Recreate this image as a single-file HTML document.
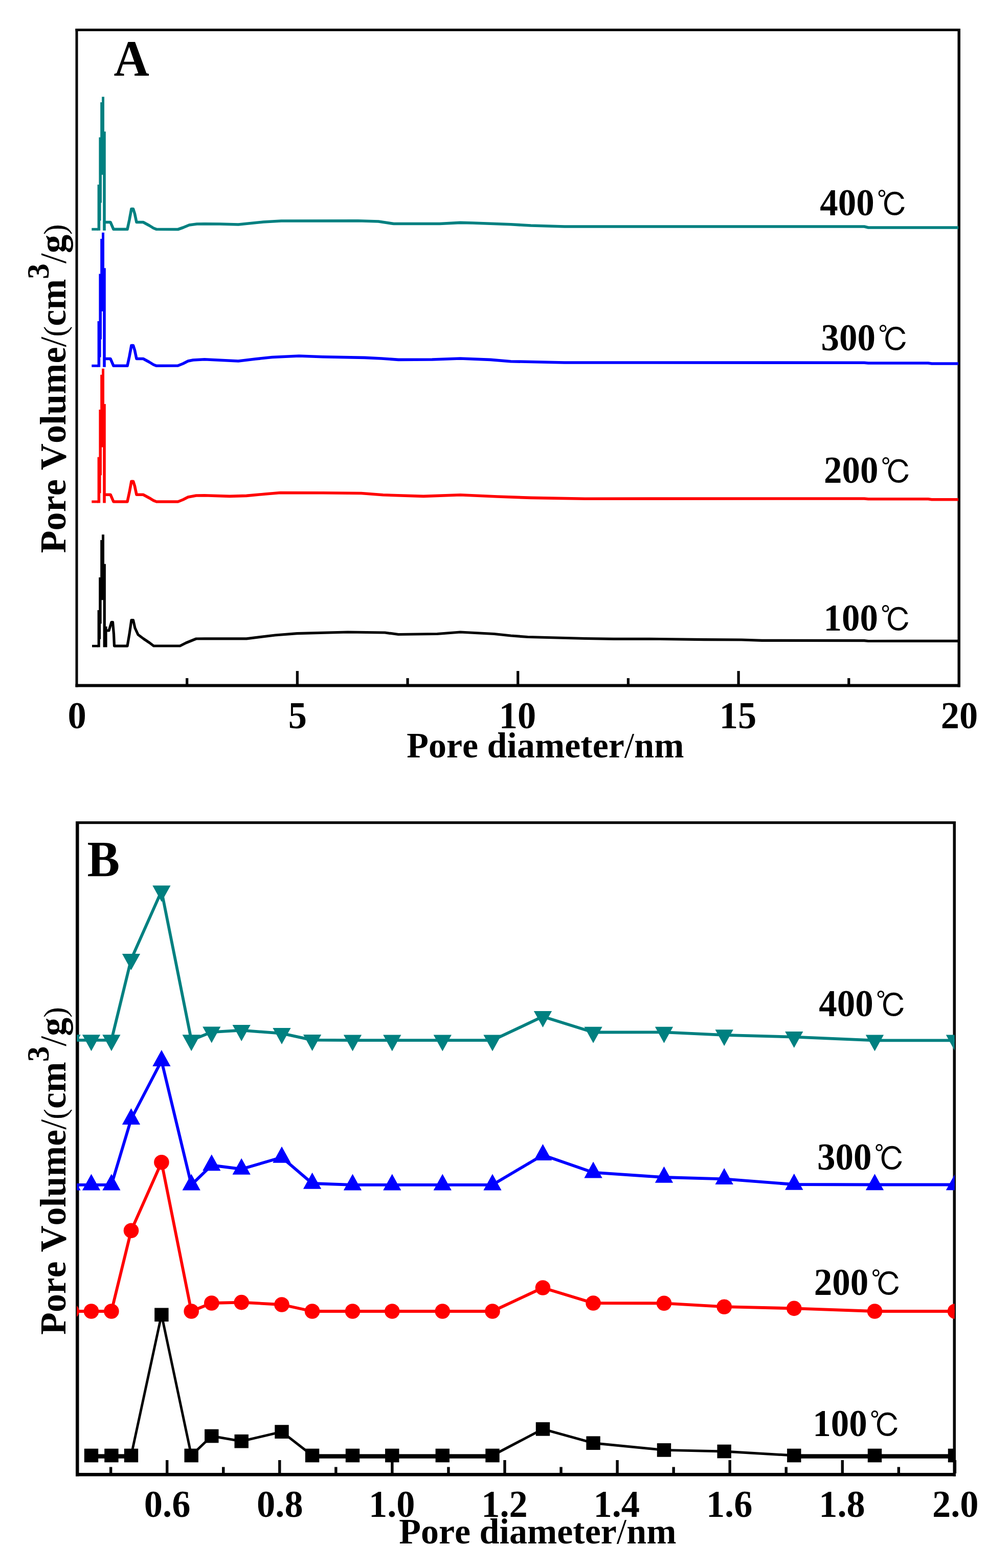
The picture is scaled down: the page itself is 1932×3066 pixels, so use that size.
<!DOCTYPE html>
<html><head><meta charset="utf-8"><title>Pore size distribution</title>
<style>html,body{margin:0;padding:0;background:#fff;}svg{display:block;}text{font-kerning:none;font-feature-settings:"kern" 0;}</style></head>
<body>
<svg width="1932" height="3066" viewBox="0 0 1932 3066">
<rect width="1932" height="3066" fill="#fff"/>
<rect x="147.5" y="56" width="1730" height="5" fill="#000"/>
<rect x="147.5" y="1337.5" width="1730" height="6" fill="#000"/>
<rect x="147.5" y="56" width="5" height="1287.5" fill="#000"/>
<rect x="1872.5" y="56" width="5.5" height="1287.5" fill="#000"/>
<rect x="578.775" y="1312" width="5.2" height="26" fill="#000"/>
<rect x="1010.15" y="1312" width="5.2" height="26" fill="#000"/>
<rect x="1441.53" y="1312" width="5.2" height="26" fill="#000"/>
<rect x="363.087" y="1326" width="5.2" height="12" fill="#000"/>
<rect x="794.462" y="1326" width="5.2" height="12" fill="#000"/>
<rect x="1225.84" y="1326" width="5.2" height="12" fill="#000"/>
<rect x="1657.21" y="1326" width="5.2" height="12" fill="#000"/>
<polyline points="179.3,448.3 192,448.3" fill="none" stroke="#008080" stroke-width="5" stroke-linejoin="round" stroke-linecap="butt"/>
<polygon points="190.6,450.8 190.6,361.1 193.4,361.1 193.4,268.4 196.2,268.4 196.2,200 199.1,200 199.1,189.3 204,189.3 204,257.3 206.8,257.3 206.8,450.8 201.2,450.8 201.2,341.8 199,341.8 199,396.6 197.6,396.6 197.6,431.5 196.2,431.5 196.2,450.8" fill="#008080"/>
<polyline points="206,434.5 216,434.5 222,448.3 249,448.3 253,430 257,408.5 260.5,408.5 263.5,418 267,434.5 280,434.5 292,441 300,446 306,448.3 348,448.5 358,445 370,440 385,438 400,437.7 430,438 466,439 515,434 550,432 700,431.7 740,433 770,437.5 860,437.5 900,435.4 925,436 999,438.7 1038,441 1104,443 1690,443 1698,445 1874,445" fill="none" stroke="#008080" stroke-width="5.6" stroke-linejoin="round" stroke-linecap="butt"/>
<polyline points="179.3,715.3 192,715.3" fill="none" stroke="#0000ff" stroke-width="5" stroke-linejoin="round" stroke-linecap="butt"/>
<polygon points="190.6,717.8 190.6,628.1 193.4,628.1 193.4,535.4 196.2,535.4 196.2,467 199.1,467 199.1,454.8 204,454.8 204,524.3 206.8,524.3 206.8,717.8 201.2,717.8 201.2,608.8 199,608.8 199,663.6 197.6,663.6 197.6,698.5 196.2,698.5 196.2,717.8" fill="#0000ff"/>
<polyline points="206,701.5 216,701.5 222,715.3 249,715.3 253,697 257,675.5 260.5,675.5 263.5,685 267,701.5 280,701.5 292,708 300,713 306,715.3 348,715 358,711 367.7,706 377.6,704 400,702.7 466,706 499,702 532,698.5 584.6,696 630.7,697.8 713,699.4 746,701 779,703.4 845,703 900,701 959,703.4 999,706.7 1104,709 1690,709.2 1698,710 1815,710 1822,711 1874,711" fill="none" stroke="#0000ff" stroke-width="5.6" stroke-linejoin="round" stroke-linecap="butt"/>
<polyline points="179.3,981 192,981" fill="none" stroke="#ff0000" stroke-width="5" stroke-linejoin="round" stroke-linecap="butt"/>
<polygon points="190.6,983.5 190.6,893.8 193.4,893.8 193.4,801.1 196.2,801.1 196.2,732.7 199.1,732.7 199.1,720.8 204,720.8 204,790 206.8,790 206.8,983.5 201.2,983.5 201.2,874.5 199,874.5 199,929.3 197.6,929.3 197.6,964.2 196.2,964.2 196.2,983.5" fill="#ff0000"/>
<polyline points="206,967.2 216,967.2 222,981 249,981 253,962.7 257,941.2 260.5,941.2 263.5,950.7 267,967.2 280,967.2 292,973.7 300,978.7 306,981 348,981 358,977 367.7,972 383.6,969 400,968.8 449,970.4 482,969.4 518.7,966 548,963.5 630.7,963.8 706.5,964.5 749,967.8 828,970.4 900,967.8 972.5,971 1038,973.4 1144,975.2 1690,975 1698,975.8 1815,975.8 1822,976.7 1874,976.7" fill="none" stroke="#ff0000" stroke-width="5.6" stroke-linejoin="round" stroke-linecap="butt"/>
<polyline points="180,1263.2 192,1263.2" fill="none" stroke="#000000" stroke-width="4.7" stroke-linejoin="round" stroke-linecap="butt"/>
<polygon points="190.6,1265.5 190.6,1193 193.2,1193 193.2,1129.1 196.2,1129.1 196.2,1056.1 199,1056.1 199,1045.3 204,1045.3 204,1102.8 206.9,1102.8 206.9,1224.9 209.6,1224.9 209.6,1265.5 201.6,1265.5 201.6,1173.2 198.7,1173.2 198.7,1219.6 197.2,1219.6 197.2,1249.7 195.8,1249.7 195.8,1265.5" fill="#000000"/>
<polyline points="207,1233 213,1233 218,1216.5 220.5,1216.5 222.5,1240 223.5,1263.2 249,1263.2 253,1240 257,1212.5 260.5,1212.5 264,1228 270,1241 280.7,1249 292.6,1257 300.5,1263 352,1263 363.8,1257 383.6,1249 400,1248.8 482,1248.8 538,1242 581,1238.6 680,1236 752.7,1237 779,1240.5 855,1239.5 900,1236 966,1239.5 999,1243 1032,1245.5 1144,1248.5 1200,1249.3 1290,1249.5 1377,1250.7 1450,1251 1490,1252.4 1690,1252.6 1698,1253.5 1874,1253.4" fill="none" stroke="#000000" stroke-width="5.2" stroke-linejoin="round" stroke-linecap="butt"/>
<text transform="translate(222.6,148.3) scale(1,1.035)" font-family="'Liberation Serif', serif" font-size="96" font-weight="bold">A</text>
<text transform="translate(132.475,1423.8) scale(1,1.035)" font-family="'Liberation Serif', serif" font-size="72.5" font-weight="bold">0</text>
<text transform="translate(563.669,1423.8) scale(1,1.035)" font-family="'Liberation Serif', serif" font-size="72.5" font-weight="bold">5</text>
<text transform="translate(975.65,1423.8) scale(1,1.035)" font-family="'Liberation Serif', serif" font-size="72.5" font-weight="bold">10</text>
<text transform="translate(1406.84,1423.8) scale(1,1.035)" font-family="'Liberation Serif', serif" font-size="72.5" font-weight="bold">15</text>
<text transform="translate(1839.85,1423.8) scale(1,1.035)" font-family="'Liberation Serif', serif" font-size="72.5" font-weight="bold">20</text>
<text x="795.2" y="1481.2" font-family="'Liberation Serif', serif" font-size="70.0" font-weight="bold" text-anchor="start" >Pore diameter<tspan font-weight="normal">/</tspan>nm</text>
<text transform="translate(128,1081.5) rotate(-90)" font-family="'Liberation Serif', serif" font-size="72.2" font-weight="bold">Pore Volume<tspan font-weight="normal">/</tspan><tspan font-weight="normal" font-size="62">(</tspan>cm<tspan font-size="61" dy="-32.6">3</tspan><tspan dy="32.6" font-weight="normal">/</tspan>g<tspan font-weight="normal" font-size="62">)</tspan></text>
<text transform="translate(1603.3,420.8) scale(1,1.03)" font-family="'Liberation Serif', 'IPAGothic', sans-serif" font-size="71"><tspan font-family="'Liberation Serif', serif" font-weight="bold">400</tspan><tspan font-size="61" dx="4.8" dy="2.2">&#8451;</tspan></text>
<text transform="translate(1605.4,684.7) scale(1,1.03)" font-family="'Liberation Serif', 'IPAGothic', sans-serif" font-size="71"><tspan font-family="'Liberation Serif', serif" font-weight="bold">300</tspan><tspan font-size="61" dx="4.8" dy="2.2">&#8451;</tspan></text>
<text transform="translate(1611,944) scale(1,1.03)" font-family="'Liberation Serif', 'IPAGothic', sans-serif" font-size="71"><tspan font-family="'Liberation Serif', serif" font-weight="bold">200</tspan><tspan font-size="61" dx="4.8" dy="2.2">&#8451;</tspan></text>
<text transform="translate(1610.5,1232.5) scale(1,1.03)" font-family="'Liberation Serif', 'IPAGothic', sans-serif" font-size="71"><tspan font-family="'Liberation Serif', serif" font-weight="bold">100</tspan><tspan font-size="61" dx="4.8" dy="2.2">&#8451;</tspan></text>
<rect x="148" y="1606" width="1721" height="5.2" fill="#000"/>
<rect x="148" y="2880" width="1721" height="6.6" fill="#000"/>
<rect x="148" y="1606" width="6.5" height="1280.6" fill="#000"/>
<rect x="1863.5" y="1606" width="5.5" height="1280.6" fill="#000"/>
<rect x="324" y="2855" width="5.4" height="26" fill="#000"/>
<rect x="544.1" y="2855" width="5.4" height="26" fill="#000"/>
<rect x="764.2" y="2855" width="5.4" height="26" fill="#000"/>
<rect x="984.3" y="2855" width="5.4" height="26" fill="#000"/>
<rect x="1204.4" y="2855" width="5.4" height="26" fill="#000"/>
<rect x="1424.5" y="2855" width="5.4" height="26" fill="#000"/>
<rect x="1644.6" y="2855" width="5.4" height="26" fill="#000"/>
<rect x="1864.7" y="2855" width="5.4" height="26" fill="#000"/>
<rect x="213.95" y="2868.5" width="5.4" height="12.5" fill="#000"/>
<rect x="434.05" y="2868.5" width="5.4" height="12.5" fill="#000"/>
<rect x="654.15" y="2868.5" width="5.4" height="12.5" fill="#000"/>
<rect x="874.25" y="2868.5" width="5.4" height="12.5" fill="#000"/>
<rect x="1094.35" y="2868.5" width="5.4" height="12.5" fill="#000"/>
<rect x="1314.45" y="2868.5" width="5.4" height="12.5" fill="#000"/>
<rect x="1534.55" y="2868.5" width="5.4" height="12.5" fill="#000"/>
<rect x="1754.65" y="2868.5" width="5.4" height="12.5" fill="#000"/>
<defs><clipPath id="cb"><rect x="150" y="1606" width="1716.8" height="1280.6"/></clipPath></defs>
<g clip-path="url(#cb)">
<rect x="178.5" y="2843.7" width="78" height="8.1" fill="#000"/>
<rect x="610.6" y="2843.7" width="352.4" height="8.1" fill="#000"/>
<rect x="1552.8" y="2843.7" width="314.7" height="8.1" fill="#000"/>
<polyline points="178.5,2846 217.9,2846 256.5,2846 315.9,2570.8 374.2,2846 413.8,2808 472.2,2818.2 551,2799.6 610.6,2846 689.5,2846 766.8,2846 865.3,2846 963,2846 1061.5,2794.3 1160.1,2821.7 1298.5,2835.4 1416.2,2838 1552.8,2846 1710.5,2846 1867.5,2846" fill="none" stroke="#000000" stroke-width="4.9" stroke-linejoin="round" stroke-linecap="butt"/>
<rect x="164.8" y="2832.65" width="27.4" height="26.7" fill="#000000"/>
<rect x="204.2" y="2832.65" width="27.4" height="26.7" fill="#000000"/>
<rect x="242.8" y="2832.65" width="27.4" height="26.7" fill="#000000"/>
<rect x="302.2" y="2557.45" width="27.4" height="26.7" fill="#000000"/>
<rect x="360.5" y="2832.65" width="27.4" height="26.7" fill="#000000"/>
<rect x="400.1" y="2794.65" width="27.4" height="26.7" fill="#000000"/>
<rect x="458.5" y="2804.85" width="27.4" height="26.7" fill="#000000"/>
<rect x="537.3" y="2786.25" width="27.4" height="26.7" fill="#000000"/>
<rect x="596.9" y="2832.65" width="27.4" height="26.7" fill="#000000"/>
<rect x="675.8" y="2832.65" width="27.4" height="26.7" fill="#000000"/>
<rect x="753.1" y="2832.65" width="27.4" height="26.7" fill="#000000"/>
<rect x="851.6" y="2832.65" width="27.4" height="26.7" fill="#000000"/>
<rect x="949.3" y="2832.65" width="27.4" height="26.7" fill="#000000"/>
<rect x="1047.8" y="2780.95" width="27.4" height="26.7" fill="#000000"/>
<rect x="1146.4" y="2808.35" width="27.4" height="26.7" fill="#000000"/>
<rect x="1284.8" y="2822.05" width="27.4" height="26.7" fill="#000000"/>
<rect x="1402.5" y="2824.65" width="27.4" height="26.7" fill="#000000"/>
<rect x="1539.1" y="2832.65" width="27.4" height="26.7" fill="#000000"/>
<rect x="1696.8" y="2832.65" width="27.4" height="26.7" fill="#000000"/>
<rect x="1853.8" y="2832.65" width="27.4" height="26.7" fill="#000000"/>
<polyline points="140,2564 178.5,2564 217.9,2564 256.5,2406.2 315.9,2272.7 374.2,2564 413.8,2548 472.2,2546.6 551,2551 610.6,2564 689.5,2564 766.8,2564 865.3,2564 963,2564 1061.5,2518 1160.1,2548 1298.5,2548.3 1416.2,2555.2 1552.8,2558.4 1710.5,2564 1867.5,2564" fill="none" stroke="#ff0000" stroke-width="5.8" stroke-linejoin="round" stroke-linecap="butt"/>
<circle cx="140" cy="2564" r="14.8" fill="#ff0000"/>
<circle cx="178.5" cy="2564" r="14.8" fill="#ff0000"/>
<circle cx="217.9" cy="2564" r="14.8" fill="#ff0000"/>
<circle cx="256.5" cy="2406.2" r="14.8" fill="#ff0000"/>
<circle cx="315.9" cy="2272.7" r="14.8" fill="#ff0000"/>
<circle cx="374.2" cy="2564" r="14.8" fill="#ff0000"/>
<circle cx="413.8" cy="2548" r="14.8" fill="#ff0000"/>
<circle cx="472.2" cy="2546.6" r="14.8" fill="#ff0000"/>
<circle cx="551" cy="2551" r="14.8" fill="#ff0000"/>
<circle cx="610.6" cy="2564" r="14.8" fill="#ff0000"/>
<circle cx="689.5" cy="2564" r="14.8" fill="#ff0000"/>
<circle cx="766.8" cy="2564" r="14.8" fill="#ff0000"/>
<circle cx="865.3" cy="2564" r="14.8" fill="#ff0000"/>
<circle cx="963" cy="2564" r="14.8" fill="#ff0000"/>
<circle cx="1061.5" cy="2518" r="14.8" fill="#ff0000"/>
<circle cx="1160.1" cy="2548" r="14.8" fill="#ff0000"/>
<circle cx="1298.5" cy="2548.3" r="14.8" fill="#ff0000"/>
<circle cx="1416.2" cy="2555.2" r="14.8" fill="#ff0000"/>
<circle cx="1552.8" cy="2558.4" r="14.8" fill="#ff0000"/>
<circle cx="1710.5" cy="2564" r="14.8" fill="#ff0000"/>
<circle cx="1867.5" cy="2564" r="14.8" fill="#ff0000"/>
<polyline points="140,2316.8 178.5,2316.8 217.9,2316.8 256.5,2188.2 315.9,2074.2 374.2,2316.8 413.8,2278.5 472.2,2286 551,2263 610.6,2314 689.5,2316.8 766.8,2316.8 865.3,2316.8 963,2316.8 1061.5,2258.4 1160.1,2292.7 1298.5,2302 1416.2,2305.3 1552.8,2316 1710.5,2316.5 1867.5,2316.5" fill="none" stroke="#0000ff" stroke-width="5.8" stroke-linejoin="round" stroke-linecap="butt"/>
<polygon points="140,2295.5 157.65,2327.5 122.35,2327.5" fill="#0000ff"/>
<polygon points="178.5,2295.5 196.15,2327.5 160.85,2327.5" fill="#0000ff"/>
<polygon points="217.9,2295.5 235.55,2327.5 200.25,2327.5" fill="#0000ff"/>
<polygon points="256.5,2166.9 274.15,2198.9 238.85,2198.9" fill="#0000ff"/>
<polygon points="315.9,2052.9 333.55,2084.9 298.25,2084.9" fill="#0000ff"/>
<polygon points="374.2,2295.5 391.85,2327.5 356.55,2327.5" fill="#0000ff"/>
<polygon points="413.8,2257.2 431.45,2289.2 396.15,2289.2" fill="#0000ff"/>
<polygon points="472.2,2264.7 489.85,2296.7 454.55,2296.7" fill="#0000ff"/>
<polygon points="551,2241.7 568.65,2273.7 533.35,2273.7" fill="#0000ff"/>
<polygon points="610.6,2292.7 628.25,2324.7 592.95,2324.7" fill="#0000ff"/>
<polygon points="689.5,2295.5 707.15,2327.5 671.85,2327.5" fill="#0000ff"/>
<polygon points="766.8,2295.5 784.45,2327.5 749.15,2327.5" fill="#0000ff"/>
<polygon points="865.3,2295.5 882.95,2327.5 847.65,2327.5" fill="#0000ff"/>
<polygon points="963,2295.5 980.65,2327.5 945.35,2327.5" fill="#0000ff"/>
<polygon points="1061.5,2237.1 1079.15,2269.1 1043.85,2269.1" fill="#0000ff"/>
<polygon points="1160.1,2271.4 1177.75,2303.4 1142.45,2303.4" fill="#0000ff"/>
<polygon points="1298.5,2280.7 1316.15,2312.7 1280.85,2312.7" fill="#0000ff"/>
<polygon points="1416.2,2284 1433.85,2316 1398.55,2316" fill="#0000ff"/>
<polygon points="1552.8,2294.7 1570.45,2326.7 1535.15,2326.7" fill="#0000ff"/>
<polygon points="1710.5,2295.2 1728.15,2327.2 1692.85,2327.2" fill="#0000ff"/>
<polygon points="1867.5,2295.2 1885.15,2327.2 1849.85,2327.2" fill="#0000ff"/>
<polyline points="140,2033.9 178.5,2033.9 217.9,2033.9 256.5,1875.7 315.9,1742.2 374.2,2033.9 413.8,2018.1 472.2,2014.7 551,2020.7 610.6,2033.7 689.5,2034.2 766.8,2034.2 865.3,2034.2 963,2034.2 1061.5,1987.7 1160.1,2018.5 1298.5,2018.4 1416.2,2023.9 1552.8,2027.7 1710.5,2034.3 1867.5,2034.3" fill="none" stroke="#008080" stroke-width="5.8" stroke-linejoin="round" stroke-linecap="butt"/>
<polygon points="122.35,2023.2 157.65,2023.2 140,2055.2" fill="#008080"/>
<polygon points="160.85,2023.2 196.15,2023.2 178.5,2055.2" fill="#008080"/>
<polygon points="200.25,2023.2 235.55,2023.2 217.9,2055.2" fill="#008080"/>
<polygon points="238.85,1865 274.15,1865 256.5,1897" fill="#008080"/>
<polygon points="298.25,1731.5 333.55,1731.5 315.9,1763.5" fill="#008080"/>
<polygon points="356.55,2023.2 391.85,2023.2 374.2,2055.2" fill="#008080"/>
<polygon points="396.15,2007.4 431.45,2007.4 413.8,2039.4" fill="#008080"/>
<polygon points="454.55,2004 489.85,2004 472.2,2036" fill="#008080"/>
<polygon points="533.35,2010 568.65,2010 551,2042" fill="#008080"/>
<polygon points="592.95,2023 628.25,2023 610.6,2055" fill="#008080"/>
<polygon points="671.85,2023.5 707.15,2023.5 689.5,2055.5" fill="#008080"/>
<polygon points="749.15,2023.5 784.45,2023.5 766.8,2055.5" fill="#008080"/>
<polygon points="847.65,2023.5 882.95,2023.5 865.3,2055.5" fill="#008080"/>
<polygon points="945.35,2023.5 980.65,2023.5 963,2055.5" fill="#008080"/>
<polygon points="1043.85,1977 1079.15,1977 1061.5,2009" fill="#008080"/>
<polygon points="1142.45,2007.8 1177.75,2007.8 1160.1,2039.8" fill="#008080"/>
<polygon points="1280.85,2007.7 1316.15,2007.7 1298.5,2039.7" fill="#008080"/>
<polygon points="1398.55,2013.2 1433.85,2013.2 1416.2,2045.2" fill="#008080"/>
<polygon points="1535.15,2017 1570.45,2017 1552.8,2049" fill="#008080"/>
<polygon points="1692.85,2023.6 1728.15,2023.6 1710.5,2055.6" fill="#008080"/>
<polygon points="1849.85,2023.6 1885.15,2023.6 1867.5,2055.6" fill="#008080"/>
</g>
<text transform="translate(170.6,1712.5) scale(1,1.045)" font-family="'Liberation Serif', serif" font-size="95.5" font-weight="bold">B</text>
<text transform="translate(281.825,2965.8) scale(1,1.035)" font-family="'Liberation Serif', serif" font-size="72.5" font-weight="bold">0.6</text>
<text transform="translate(502.106,2965.8) scale(1,1.035)" font-family="'Liberation Serif', serif" font-size="72.5" font-weight="bold">0.8</text>
<text transform="translate(720.938,2965.8) scale(1,1.035)" font-family="'Liberation Serif', serif" font-size="72.5" font-weight="bold">1.0</text>
<text transform="translate(941.219,2965.8) scale(1,1.035)" font-family="'Liberation Serif', serif" font-size="72.5" font-weight="bold">1.2</text>
<text transform="translate(1160.41,2965.8) scale(1,1.035)" font-family="'Liberation Serif', serif" font-size="72.5" font-weight="bold">1.4</text>
<text transform="translate(1380.88,2965.8) scale(1,1.035)" font-family="'Liberation Serif', serif" font-size="72.5" font-weight="bold">1.6</text>
<text transform="translate(1601.16,2965.8) scale(1,1.035)" font-family="'Liberation Serif', serif" font-size="72.5" font-weight="bold">1.8</text>
<text transform="translate(1822.89,2965.8) scale(1,1.035)" font-family="'Liberation Serif', serif" font-size="72.5" font-weight="bold">2.0</text>
<text x="780.2" y="3017.8" font-family="'Liberation Serif', serif" font-size="70.0" font-weight="bold" text-anchor="start" >Pore diameter<tspan font-weight="normal">/</tspan>nm</text>
<text transform="translate(128,2610) rotate(-90)" font-family="'Liberation Serif', serif" font-size="71.9" font-weight="bold">Pore Volume<tspan font-weight="normal">/</tspan><tspan font-weight="normal" font-size="62">(</tspan>cm<tspan font-size="61" dy="-32.6">3</tspan><tspan dy="32.6" font-weight="normal">/</tspan>g<tspan font-weight="normal" font-size="62">)</tspan></text>
<text transform="translate(1601.2,1986.7) scale(1,1.03)" font-family="'Liberation Serif', 'IPAGothic', sans-serif" font-size="71"><tspan font-family="'Liberation Serif', serif" font-weight="bold">400</tspan><tspan font-size="61" dx="4.8" dy="2.2">&#8451;</tspan></text>
<text transform="translate(1598,2286.7) scale(1,1.03)" font-family="'Liberation Serif', 'IPAGothic', sans-serif" font-size="71"><tspan font-family="'Liberation Serif', serif" font-weight="bold">300</tspan><tspan font-size="61" dx="4.8" dy="2.2">&#8451;</tspan></text>
<text transform="translate(1591.8,2532) scale(1,1.03)" font-family="'Liberation Serif', 'IPAGothic', sans-serif" font-size="71"><tspan font-family="'Liberation Serif', serif" font-weight="bold">200</tspan><tspan font-size="61" dx="4.8" dy="2.2">&#8451;</tspan></text>
<text transform="translate(1589.3,2808) scale(1,1.03)" font-family="'Liberation Serif', 'IPAGothic', sans-serif" font-size="71"><tspan font-family="'Liberation Serif', serif" font-weight="bold">100</tspan><tspan font-size="61" dx="4.8" dy="2.2">&#8451;</tspan></text>
</svg>
</body></html>
